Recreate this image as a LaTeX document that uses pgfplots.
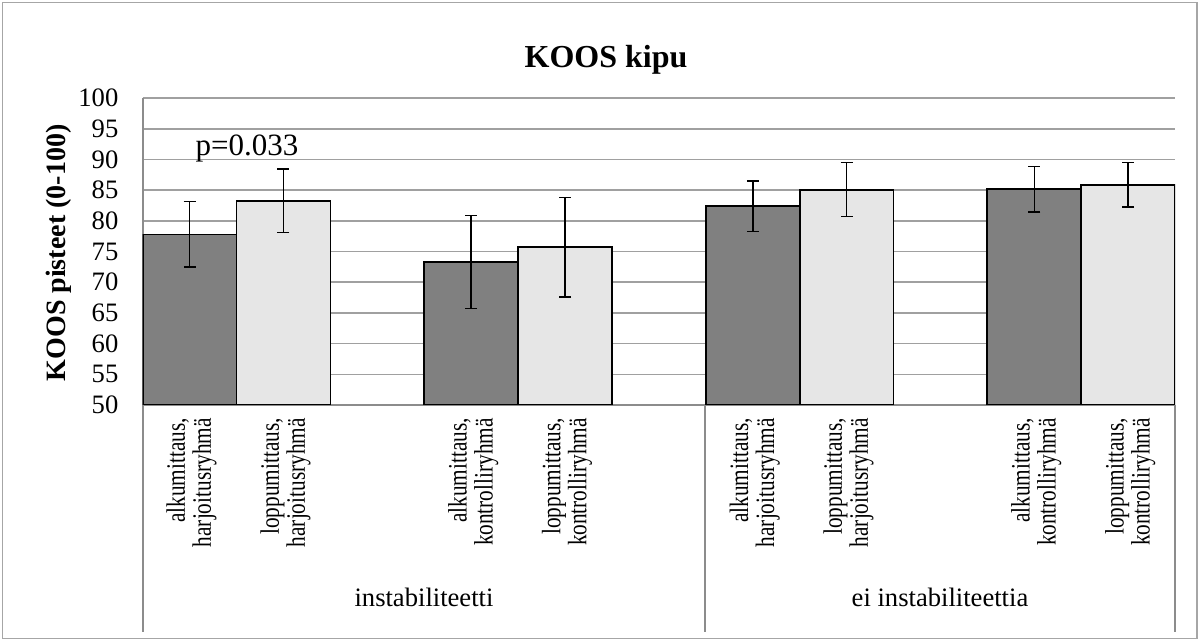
\documentclass[border=0pt]{standalone}
\usepackage{fontspec}
\setmainfont{Liberation Serif}
\usepackage{pgfplots}
\pgfplotsset{compat=1.18}
\definecolor{darkbar}{HTML}{808080}
\definecolor{lightbar}{HTML}{E6E6E6}
\definecolor{gridgray}{HTML}{A0A0A0}
\definecolor{axisgray}{HTML}{8C8C8C}
\definecolor{framegray}{HTML}{A6A6A6}
\begin{document}
\begin{tikzpicture}[x=1pt,y=1pt]
\useasboundingbox (0,0) rectangle (600,320.5);
\draw[framegray, line width=0.6pt] (1.2,1.2) rectangle (598.5,319.3);
\begin{axis}[
  at={(71.35pt,118pt)}, anchor=south west,
  scale only axis, width=516.2pt, height=153.4pt,
  xmin=0, xmax=11, ymin=50, ymax=100,
  ybar=0pt, bar width=1,
  ytick={50,55,...,100},
  xtick={0.5,1.5,3.5,4.5,6.5,7.5,9.5,10.5},
  xticklabels={{alkumittaus,\\harjoitusryhmä},{loppumittaus,\\harjoitusryhmä},
               {alkumittaus,\\kontrolliryhmä},{loppumittaus,\\kontrolliryhmä},
               {alkumittaus,\\harjoitusryhmä},{loppumittaus,\\harjoitusryhmä},
               {alkumittaus,\\kontrolliryhmä},{loppumittaus,\\kontrolliryhmä}},
  axis x line*=bottom, axis y line*=left,
  axis line style={axisgray, line width=0.8pt, -},
  ymajorgrids, grid style={gridgray, line width=0.8pt},
  major tick length=0pt,
  tick style={draw=none},
  /pgf/number format/assume math mode=true,
  ticklabel style={font=\fontsize{13.3}{14}\selectfont},
  yticklabel style={anchor=east, inner sep=0pt, xshift=-12pt},
  xticklabel style={xshift=1pt, rotate=90, xscale=0.8, anchor=east, align=right, inner sep=0pt, font=\fontsize{13.3}{13}\selectfont},
  xticklabel shift=6.5pt,
]
\addplot[bar shift=0pt, fill=darkbar, draw=black, line width=0.9pt,
  error bars/.cd, y dir=both, y explicit,
  error bar style={black, line width=0.8pt},
  error mark options={rotate=90, mark size=3pt, black, line width=0.8pt}]
  table[x=x, y=y, y error=e] {
x y e
0.5 77.8 5.35
3.5 73.3 7.6
6.5 82.4 4.1
9.5 85.2 3.7
};
\addplot[bar shift=0pt, fill=lightbar, draw=black, line width=0.9pt,
  error bars/.cd, y dir=both, y explicit,
  error bar style={black, line width=0.8pt},
  error mark options={rotate=90, mark size=3pt, black, line width=0.8pt}]
  table[x=x, y=y, y error=e] {
x y e
1.5 83.3 5.2
4.5 75.7 8.1
7.5 85.1 4.4
10.5 85.9 3.65
};
\end{axis}
\node[font=\bfseries\fontsize{16}{18}\selectfont] at (303,290.5) {KOOS kipu};
\node[rotate=90, font=\bfseries\fontsize{14}{16}\selectfont] at (29.5,194) {KOOS pisteet (0-100)};
\node[font=\fontsize{15.5}{17}\selectfont, anchor=base] at (123.5,242.5) {p=0.033};
\draw[axisgray, line width=0.8pt] (71.35,118) -- (71.35,4.5);
\draw[axisgray, line width=0.8pt] (352.5,118) -- (352.5,4.5);
\draw[axisgray, line width=0.8pt] (587.5,118) -- (587.5,4.5);
\node[font=\fontsize{13.3}{15}\selectfont] at (212,22) {instabiliteetti};
\node[font=\fontsize{13.3}{15}\selectfont] at (470,22) {ei instabiliteettia};
\end{tikzpicture}
\end{document}
